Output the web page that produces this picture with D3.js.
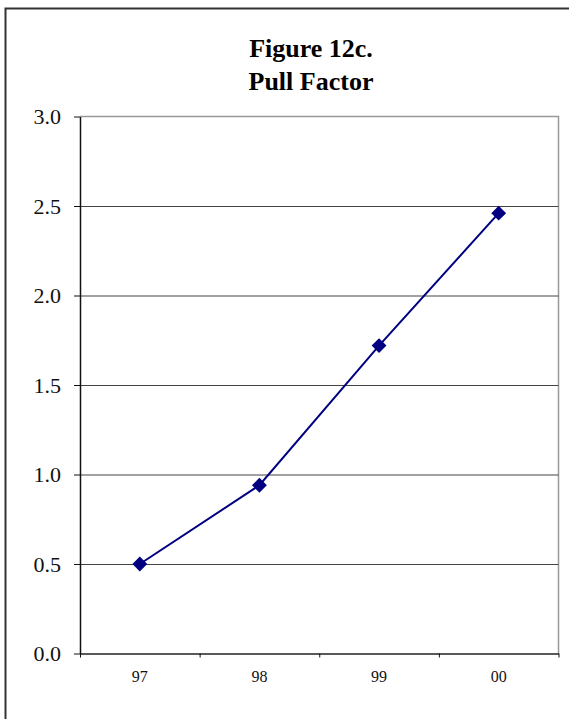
<!DOCTYPE html>
<html>
<head>
<meta charset="utf-8">
<script src="https://cdn.jsdelivr.net/npm/d3@7"></script>
<style>
  body { margin: 0; background: #fff; }
  svg { display: block; }
  svg text { font-family: "Liberation Serif", "Times New Roman", serif; }
</style>
</head>
<body>
<script>
// chart data
var years = ['97', '98', '99', '00'];
var pullFactor = [0.50, 0.94, 1.72, 2.46];
var yTicks = [0, 0.5, 1.0, 1.5, 2.0, 2.5, 3.0];
var titleLines = ['Figure 12c.', 'Pull Factor'];

var W = 569, H = 719;
var margin = {top: 116.5, right: 10.5, bottom: 65.5, left: 80},
	width  = W - margin.left - margin.right,
	height = H - margin.top - margin.bottom;

var svg = d3.select('body').append('svg')
	.attr('width', W)
	.attr('height', H);

// outer frame, runs off the right and bottom edges
svg.append('rect')
	.attr('x', 5.5)
	.attr('y', 8.5)
	.attr('width', 620)
	.attr('height', 760)
	.attr('fill', 'none')
	.attr('stroke', '#333')
	.attr('stroke-width', 2);

svg.append('g')
	.selectAll('text')
	.data(titleLines)
	.enter().append('text')
	.attr('x', 311)
	.attr('y', function(d, i) { return 57 + i * 33; })
	.attr('text-anchor', 'middle')
	.style('font-size', '26px')
	.style('font-weight', 'bold')
	.text(function(d) { return d; });

var x = d3.scaleBand().domain(years).range([0, width]).padding(0),
	xEdge = d3.scaleLinear().domain([0, years.length]).range([0, width]),
	y = d3.scaleLinear().domain([0, 3]).range([height, 0]);

var plot = svg.append('g')
	.attr('transform', 'translate(' + margin.left + ',' + margin.top + ')');

// plot border: grey top and right
plot.append('path')
	.attr('d', 'M0,0H' + width + 'V' + height)
	.attr('fill', 'none')
	.attr('stroke', '#999')
	.attr('stroke-width', 1.5);

// gridlines
plot.append('g')
	.attr('class', 'grid')
	.call(d3.axisLeft(y)
		.tickValues(yTicks.filter(function(v) { return v > 0 && v < 3; }))
		.tickSize(-width)
		.tickFormat(''))
	.call(function(g) { g.select('.domain').remove(); })
	.selectAll('line')
	.attr('stroke', '#444')
	.attr('stroke-width', 1);

// y axis
var yAxis = plot.append('g')
	.call(d3.axisLeft(y)
		.tickValues(yTicks)
		.tickSize(6)
		.tickPadding(13)
		.tickSizeOuter(0)
		.tickFormat(d3.format('.1f')));
yAxis.attr('font-family', null);
yAxis.select('.domain').attr('stroke', '#111').attr('stroke-width', 1.5);
yAxis.selectAll('line').attr('stroke', '#111');
yAxis.selectAll('text')
	.style('font-size', '22px')
	.attr('fill', '#111');

// x axis: boundary ticks
var xTickAxis = plot.append('g')
	.attr('transform', 'translate(0,' + height + ')')
	.call(d3.axisBottom(xEdge)
		.tickValues(d3.range(years.length + 1))
		.tickSize(4)
		.tickSizeOuter(0)
		.tickFormat(''));
xTickAxis.select('.domain').attr('stroke', '#222').attr('stroke-width', 1.5);
xTickAxis.selectAll('line').attr('stroke', '#111');

// x axis: centred labels
var xLabels = plot.append('g')
	.attr('transform', 'translate(0,' + height + ')')
	.call(d3.axisBottom(x)
		.tickSize(0)
		.tickPadding(17));
xLabels.attr('font-family', null);
xLabels.select('.domain').remove();
xLabels.selectAll('text')
	.style('font-size', '16px')
	.attr('fill', '#111');

var data = years.map(function(yr, i) { return {year: yr, value: pullFactor[i]}; });

var line = d3.line()
	.x(function(d) { return x(d.year) + x.bandwidth() / 2; })
	.y(function(d) { return y(d.value); });

plot.append('path')
	.datum(data)
	.attr('d', line)
	.attr('fill', 'none')
	.attr('stroke', '#000080')
	.attr('stroke-width', 2);

plot.selectAll('.marker')
	.data(data)
	.enter().append('path')
	.attr('class', 'marker')
	.attr('d', d3.symbol(d3.symbolSquare, 110))
	.attr('transform', function(d) {
		return 'translate(' + (x(d.year) + x.bandwidth() / 2) + ',' + y(d.value) + ') rotate(45)';
	})
	.attr('fill', '#000080');
</script>
</body>
</html>
